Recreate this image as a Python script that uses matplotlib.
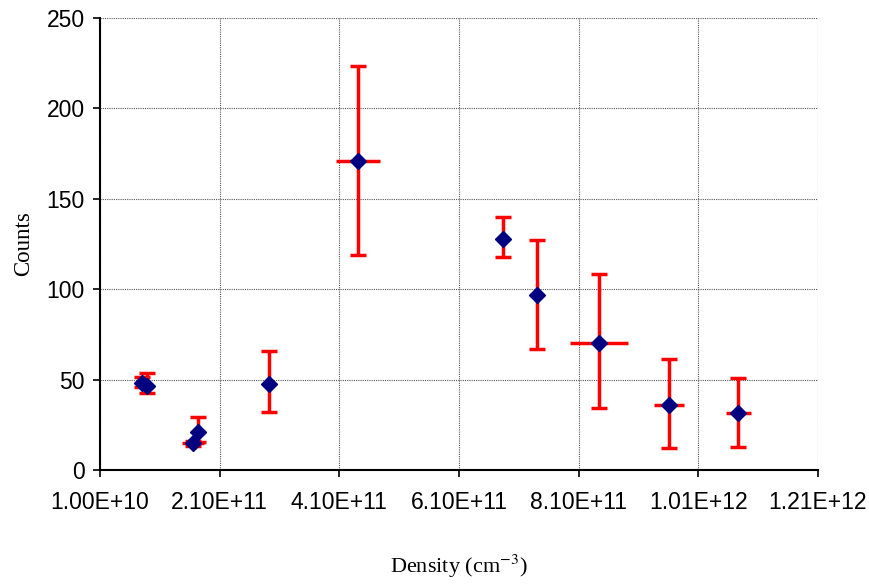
import matplotlib.pyplot as plt

plt.rcParams['mathtext.fontset'] = 'stix'

# данные
density = [8.0e10, 8.9e10, 1.65e11, 1.74e11, 2.92e11, 4.41e11,
           6.83e11, 7.41e11, 8.44e11, 9.61e11, 1.077e12]
counts = [48.3, 46.5, 14.8, 20.8, 47.6, 170.9, 127.6, 97.0, 70.1, 36.0, 31.4]
err_lo = [2.5, 4.1, 1.5, 5.3, 15.7, 52.2, 10.0, 29.9, 36.0, 24.0, 18.5]
err_hi = [3.0, 7.0, 1.5, 8.7, 18.2, 52.6, 12.5, 30.0, 38.3, 25.2, 19.3]
dens_err = [0.5e10, 0.5e10, 1.8e10, 0.0, 0.0, 3.7e10,
            1.0e10, 0.0, 4.8e10, 2.45e10, 2.1e10]

xticks = [1.0e10, 2.1e11, 4.1e11, 6.1e11, 8.1e11, 1.01e12, 1.21e12]
yticks = [0, 50, 100, 150, 200, 250]

fig = plt.figure(figsize=(8.69, 5.84), dpi=100)
ax = fig.add_axes([100/869, 1 - 470/584, 718/869, 452/584])

# вертикальные ошибки с засечками, горизонтальные без
ax.errorbar(density, counts, yerr=[err_lo, err_hi],
            fmt='none', ecolor='#ff0000', elinewidth=2.5, capsize=6,
            capthick=2.5, zorder=2)
ax.errorbar(density, counts, xerr=dens_err,
            fmt='none', ecolor='#ff0000', elinewidth=2.5, capsize=0,
            zorder=2)
ax.plot(density, counts, linestyle='none', marker='D', markersize=8,
        color='#000080', zorder=3)

ax.set_xlim(1.0e10, 1.21e12)
ax.set_ylim(0, 250)
ax.set_xticks(xticks)
ax.set_xticklabels(['%.2E' % v for v in xticks])
ax.set_yticks(yticks)

ax.grid(True, color='#555555', linestyle=(0, (1, 1)), linewidth=0.8)
ax.set_axisbelow(True)
for s in ['top', 'right']:
    ax.spines[s].set_visible(False)
for s in ['left', 'bottom']:
    ax.spines[s].set_linewidth(1.5)

ax.tick_params(direction='out', length=5, width=1.2, labelsize=16.5)
ax.tick_params(axis='x', pad=10)
ax.tick_params(axis='y', pad=6)
for lab in ax.get_xticklabels() + ax.get_yticklabels():
    lab.set_family('Liberation Sans')

ax.set_xlabel('Density (cm$^{\\mathrm{-3}}$)', fontsize=16,
              family='Liberation Serif', labelpad=28)
ax.set_ylabel('Counts', fontsize=16.5, family='Liberation Serif', labelpad=9)

fig.savefig('out.png', dpi=100)
